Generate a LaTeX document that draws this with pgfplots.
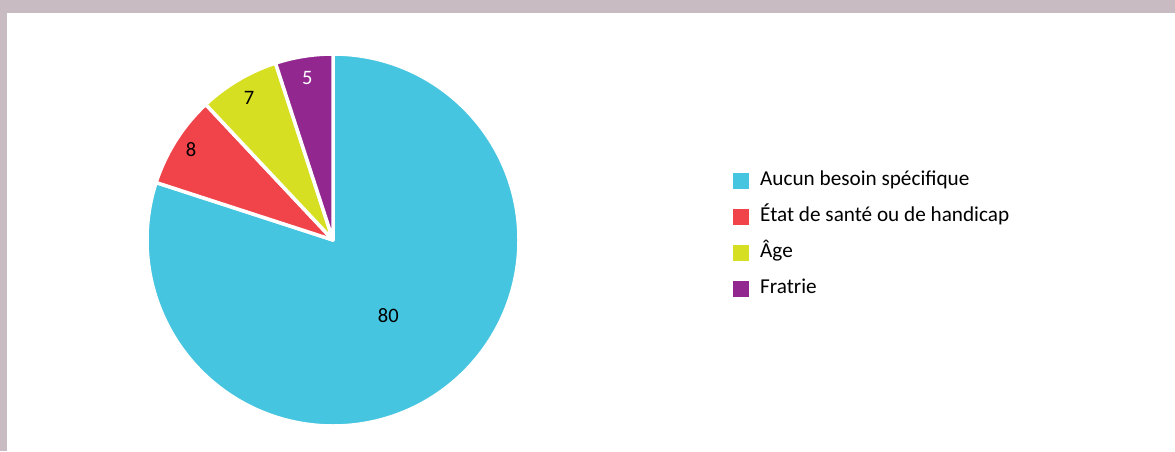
\documentclass[border=0pt]{standalone}
\usepackage{pgfplots}
\usepackage{pgfplotstable}
\pgfplotsset{compat=1.18}
\usetikzlibrary{calc}
\usepackage{fontspec}
\setmainfont{Carlito}
\definecolor{pieCyan}{HTML}{46C5E0}
\definecolor{pieRed}{HTML}{F0444A}
\definecolor{pieYellow}{HTML}{D7DF23}
\definecolor{piePurple}{HTML}{92278F}
\definecolor{frameC}{HTML}{C8BBC2}
\pgfplotstableread{
value col labcol labdist
80 pieCyan black 94
8 pieRed black 168
7 pieYellow black 165
5 piePurple white 164
}\piedata
\begin{document}
\begin{tikzpicture}
\begin{axis}[
  scale only axis, width=1175pt, height=451pt,
  xmin=0, xmax=1175, ymin=0, ymax=451,
  hide axis, clip=false,
  legend cell align=left,
  legend image code/.code={\fill[#1, draw=none] (0pt,-8pt) rectangle (16pt,8pt);},
  legend style={draw=none, fill=none, at={(axis cs:733,451-172)}, anchor=north west,
    inner sep=0pt, row sep=18pt, column sep=11pt,
    font=\fontsize{21.2}{23}\selectfont,
    nodes={inner sep=0pt, text height=13pt, text depth=5pt}},
]
\addlegendimage{fill=pieCyan}\addlegendentry{Aucun besoin spécifique}
\addlegendimage{fill=pieRed}\addlegendentry{État de santé ou de handicap}
\addlegendimage{fill=pieYellow}\addlegendentry{Âge}
\addlegendimage{fill=piePurple}\addlegendentry{Fratrie}
\pgfplotsextra{
  \fill[frameC] (axis cs:0,451-13) rectangle (axis cs:1175,451);
  \fill[frameC] (axis cs:0,0) rectangle (axis cs:7,451);
  \xdef\cumul{90}
  \foreach \i in {0,...,3}{
    \pgfplotstablegetelem{\i}{value}\of\piedata \let\v\pgfplotsretval
    \pgfplotstablegetelem{\i}{col}\of\piedata \let\c\pgfplotsretval
    \pgfplotstablegetelem{\i}{labcol}\of\piedata \let\lc\pgfplotsretval
    \pgfplotstablegetelem{\i}{labdist}\of\piedata \let\ld\pgfplotsretval
    \pgfmathsetmacro\st{\cumul}
    \pgfmathsetmacro\en{\cumul-3.6*\v}
    \pgfmathsetmacro\mi{(\st+\en)/2}
    \fill[\c, draw=white, line width=3.5pt, line join=round]
      (axis cs:333,211) -- ++(\st:186pt) arc[start angle=\st, end angle=\en, radius=186pt] -- cycle;
    \node[text=\lc, font=\fontsize{20.5}{22}\selectfont, inner sep=0pt]
      at ($(axis cs:333,211)+(\mi:\ld pt)$) {\v};
    \xdef\cumul{\en}
  }
}
\end{axis}
\end{tikzpicture}
\end{document}
